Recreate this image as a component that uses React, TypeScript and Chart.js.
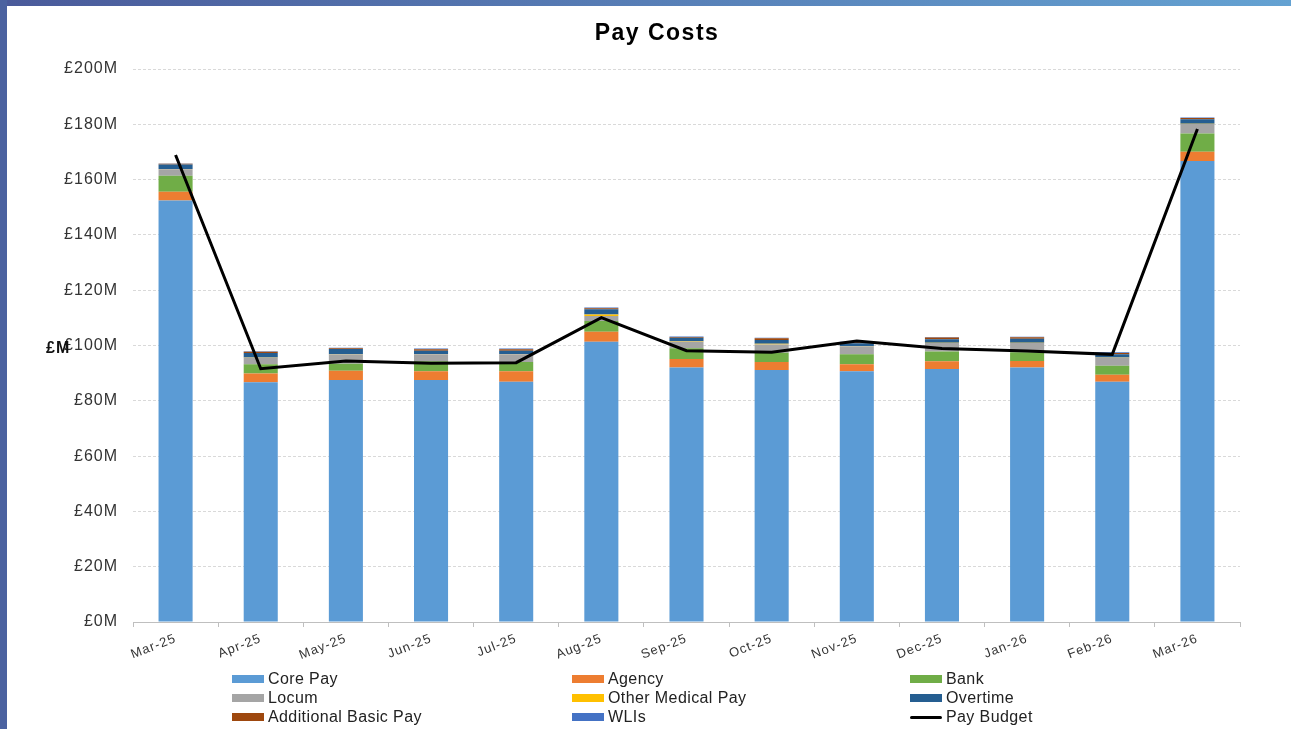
import React, { useEffect, useRef } from "react";
import { Chart, registerables } from "chart.js";
Chart.register(...registerables);

const months = ["Mar-25", "Apr-25", "May-25", "Jun-25", "Jul-25", "Aug-25", "Sep-25", "Oct-25", "Nov-25", "Dec-25", "Jan-26", "Feb-26", "Mar-26"];
const corePay = [152.4, 86.7, 87.5, 87.5, 86.9, 101.4, 92.0, 91.1, 90.7, 91.5, 92.0, 86.9, 166.7];
const agency = [3.2, 3.2, 3.4, 3.2, 3.8, 3.6, 3.1, 2.9, 2.5, 2.8, 2.4, 2.5, 3.4];
const bank = [5.8, 3.3, 2.5, 3.6, 3.3, 3.9, 3.9, 3.4, 3.6, 3.5, 3.2, 3.3, 6.6];
const locum = [2.3, 2.4, 3.3, 2.5, 2.8, 1.8, 2.4, 3.0, 2.8, 3.1, 3.3, 2.9, 3.4];
const otherMedicalPay = [0.1, 0.1, 0.1, 0.1, 0.1, 0.5, 0.1, 0.2, 0.1, 0.1, 0.1, 0.1, 0.1];
const overtime = [1.7, 1.6, 1.9, 1.2, 1.2, 1.9, 1.3, 1.4, 1.1, 1.3, 1.4, 1.1, 1.6];
const additionalBasicPay = [0.2, 0.4, 0.3, 0.5, 0.5, 0.4, 0.3, 0.6, 0.4, 0.6, 0.6, 0.5, 0.5];
const wlis = [0.1, 0.2, 0.2, 0.3, 0.3, 0.2, 0.2, 0.2, 0.2, 0.2, 0.2, 0.3, 0.2];
const payBudget = [168.9, 91.6, 94.4, 93.6, 93.8, 110.1, 98.1, 97.6, 101.6, 98.9, 98.0, 96.8, 178.3];
const yTickValues = [0, 20, 40, 60, 80, 100, 120, 140, 160, 180, 200];

const FONT = "'Liberation Sans', Arial, sans-serif";

const barSeries = [
  { label: "Core Pay", data: corePay, color: "#5B9BD5" },
  { label: "Agency", data: agency, color: "#ED7D31" },
  { label: "Bank", data: bank, color: "#70AD47" },
  { label: "Locum", data: locum, color: "#A5A5A5" },
  { label: "Other Medical Pay", data: otherMedicalPay, color: "#FFC000" },
  { label: "Overtime", data: overtime, color: "#255E91" },
  { label: "Additional Basic Pay", data: additionalBasicPay, color: "#9E480E" },
  { label: "WLIs", data: wlis, color: "#4472C4" },
];

const legendItems = [
  { label: "Core Pay", color: "#5B9BD5", line: false },
  { label: "Agency", color: "#ED7D31", line: false },
  { label: "Bank", color: "#70AD47", line: false },
  { label: "Locum", color: "#A5A5A5", line: false },
  { label: "Other Medical Pay", color: "#FFC000", line: false },
  { label: "Overtime", color: "#255E91", line: false },
  { label: "Additional Basic Pay", color: "#9E480E", line: false },
  { label: "WLIs", color: "#4472C4", line: false },
  { label: "Pay Budget", color: "#000000", line: true },
];
const legendCols = [232, 572, 910];
const legendRows = [679, 698, 717];

const spacingPlugin = {
  id: "letterSpacing",
  beforeDraw(chart: any) {
    chart.ctx.letterSpacing = "1px";
  },
  afterDraw(chart: any) {
    chart.ctx.letterSpacing = "0px";
  },
};

export default function App() {
  const ref = useRef<HTMLCanvasElement>(null);
  useEffect(() => {
    document.body.style.margin = "0";
    const datasets: any[] = [
      {
        type: "line",
        label: "Pay Budget",
        data: payBudget,
        borderColor: "#000000",
        backgroundColor: "#000000",
        borderWidth: 3,
        pointRadius: 0,
        tension: 0,
        fill: false,
        order: 0,
        stack: "budget",
      },
      ...barSeries.map((s) => ({
        type: "bar",
        label: s.label,
        data: s.data,
        backgroundColor: s.color,
        borderWidth: 0,
        barPercentage: 0.5,
        categoryPercentage: 0.8,
        order: 1,
        stack: "pay",
      })),
    ];
    const chart = new Chart(ref.current!, {
      type: "bar",
      data: { labels: months, datasets },
      plugins: [spacingPlugin],
      options: {
        responsive: false,
        animation: false,
        layout: { padding: { top: 69, right: 51, left: 0, bottom: 0 } },
        plugins: {
          legend: { display: false },
          title: { display: false },
          tooltip: { enabled: false },
        },
        scales: {
          x: {
            stacked: true,
            grid: { offset: true, drawOnChartArea: false, tickLength: 5, color: "#bfbfbf" },
            border: { color: "#bfbfbf" },
            ticks: {
              minRotation: 21,
              maxRotation: 21,
              padding: 4,
              color: "#333333",
              font: { family: FONT, size: 13 },
            },
            afterFit: (s: any) => {
              s.height = 107;
            },
          },
          y: {
            stacked: true,
            min: 0,
            max: 200,
            afterBuildTicks: (s: any) => {
              s.ticks = yTickValues.map((v) => ({ value: v }));
            },
            ticks: {
              padding: 15,
              color: "#333333",
              font: { family: FONT, size: 16 },
              callback: (v: any) => "£" + v + "M",
            },
            grid: { color: "#d9d9d9", drawTicks: false },
            border: { display: false, dash: [3, 2] },
            afterFit: (s: any) => {
              s.width = 133;
            },
          },
        },
      } as any,
    });
    return () => chart.destroy();
  }, []);

  return (
    <div style={{ position: "absolute", left: 0, top: 0, width: 1291, height: 729, background: "#fff", overflow: "hidden", fontFamily: FONT }}>
      <canvas ref={ref} width={1291} height={729} style={{ position: "absolute", left: 0, top: 0, width: 1291, height: 729 }} />
      <div style={{ position: "absolute", left: 0, top: 0, width: 1291, height: 6, background: "linear-gradient(to right, #4a5a9a, #64a2d2)" }} />
      <div style={{ position: "absolute", left: 0, top: 0, width: 7, height: 729, background: "#4b62a0" }} />
      <div style={{ position: "absolute", left: 657, top: 19, transform: "translateX(-50%)", fontSize: 23, lineHeight: "26px", fontWeight: "bold", letterSpacing: 1.5, color: "#000", whiteSpace: "nowrap" }}>Pay Costs</div>
      <div style={{ position: "absolute", left: 46, top: 339, fontSize: 16, lineHeight: "18px", fontWeight: "bold", letterSpacing: 1, color: "#111" }}>£M</div>
      {legendItems.map((it, i) => {
        const x = legendCols[i % 3];
        const y = legendRows[Math.floor(i / 3)];
        return (
          <div key={it.label} style={{ position: "absolute", left: x, top: y - 10, height: 20, display: "flex", alignItems: "center", whiteSpace: "nowrap" }}>
            <div style={{ width: 32, height: it.line ? 3 : 8, background: it.color, borderRadius: it.line ? 2 : 0 }} />
            <span style={{ marginLeft: 4, fontSize: 16, letterSpacing: 0.4, color: "#222" }}>{it.label}</span>
          </div>
        );
      })}
    </div>
  );
}
